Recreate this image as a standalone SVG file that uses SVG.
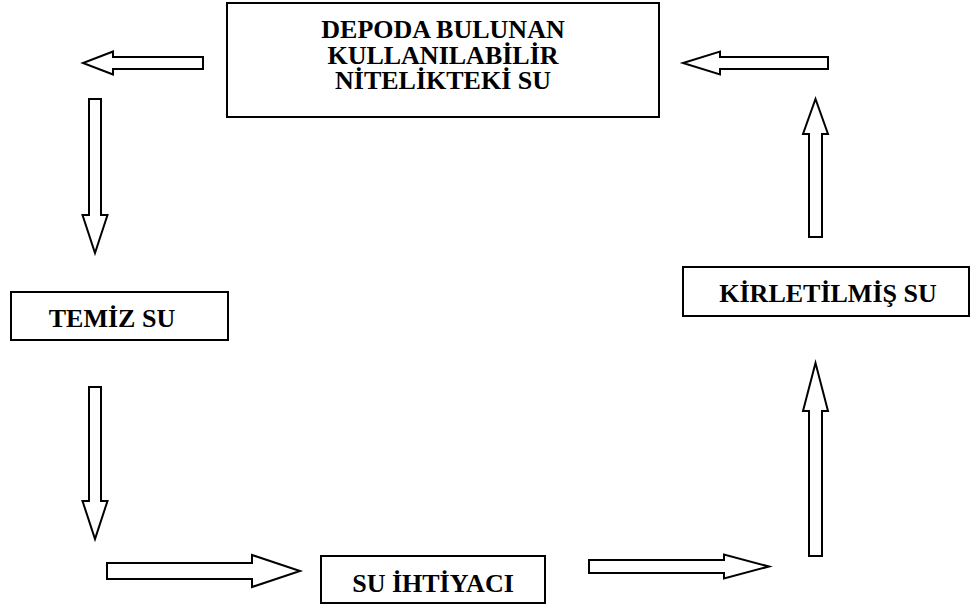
<svg xmlns="http://www.w3.org/2000/svg" width="970" height="607" viewBox="0 0 970 607">
<style>
.box{fill:#fff;stroke:#000;stroke-width:2}
.arr{fill:#fff;stroke:#000;stroke-width:2;stroke-linejoin:miter}
.lbl{font-family:"Liberation Serif","Times New Roman",serif;font-weight:bold;font-size:26px;fill:#000;text-anchor:middle}
</style>
<rect width="970" height="607" fill="#fff"/>
<g id="depo">
<rect class="box" x="227" y="3" width="432" height="114"/>
<text class="lbl" x="443" y="38">DEPODA BULUNAN</text>
<text class="lbl" x="443" y="63.5">KULLANILABİLİR</text>
<text class="lbl" x="443" y="89">NİTELİKTEKİ SU</text>
</g>
<g id="temiz">
<rect class="box" x="11" y="292" width="217" height="48"/>
<text class="lbl" x="112" y="327">TEMİZ SU</text>
</g>
<g id="ihtiyac">
<rect class="box" x="321" y="556" width="224" height="47"/>
<text class="lbl" x="433" y="592">SU İHTİYACI</text>
</g>
<g id="kirli">
<rect class="box" x="683" y="267" width="286" height="49"/>
<text class="lbl" x="828" y="302">KİRLETİLMİŞ SU</text>
</g>
<g id="connectors">
<polygon class="arr" points="203,57 113,57 113,51.5 83,63 113,74.5 113,69 203,69"/>
<polygon class="arr" points="89,99 101,99 101,215 107.5,215 95,253 82.5,215 89,215"/>
<polygon class="arr" points="89,387 101,387 101,501 107.5,501 95,539 82.5,501 89,501"/>
<polygon class="arr" points="107,563 252,563 252,555 300,571 252,587 252,579 107,579"/>
<polygon class="arr" points="589,560 724,560 724,554.5 769,566.5 724,578.5 724,573 589,573"/>
<polygon class="arr" points="809,556 809,411 803,411 815.5,363 828,411 822,411 822,556"/>
<polygon class="arr" points="809,237 809,134 803,134 815.5,99 828,134 822,134 822,237"/>
<polygon class="arr" points="828,57 720,57 720,51.5 683,63 720,74.5 720,69 828,69"/>
</g>
</svg>
